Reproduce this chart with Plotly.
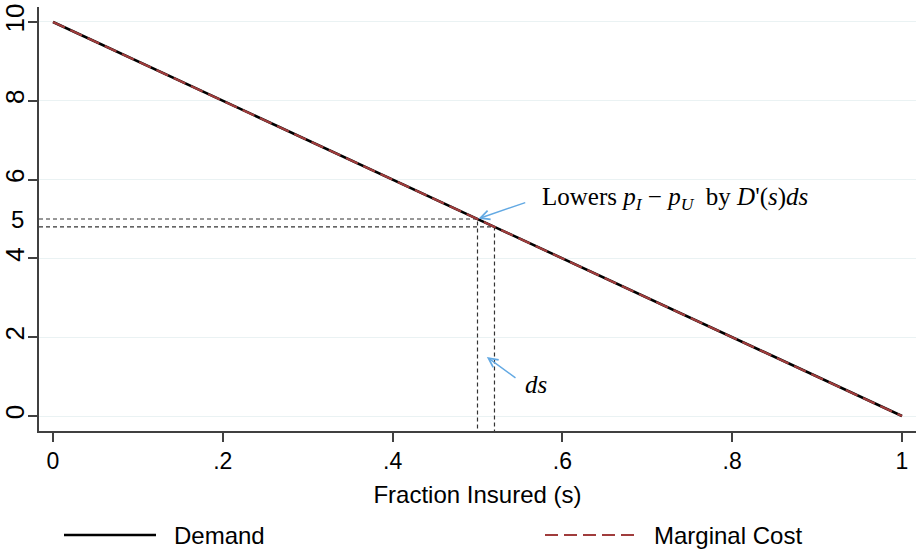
import plotly.graph_objects as go

# ---- data ----
share = [0, 1]                 # fraction insured (s)
demand = [10, 0]               # demand curve
marginal_cost = [10, 0]        # marginal cost curve
s_points = [0.5, 0.52]         # s and s + ds
price_points = [5, 4.8]        # D(s) and D(s+ds)
x_tickvals = [0, 0.2, 0.4, 0.6, 0.8, 1]
x_ticktext = ["0", ".2", ".4", ".6", ".8", "1"]
y_tickvals = [0, 2, 4, 6, 8, 10]
y_ticktext = ["0", "2", "4", "6", "8", "10"]

X_RANGE = [-0.0165, 1.0165]
Y_RANGE = [-0.38, 10.38]

SANS = "Liberation Sans, Arial, sans-serif"
SERIF = "Liberation Serif, Times New Roman, serif"
AXIS_COL = "#404040"
ARROW_COL = "#63a9e3"

fig = go.Figure()

# dashed guide lines (horizontal to curve, then down to the axis)
for sp, pp in zip(s_points, price_points):
    fig.add_trace(go.Scatter(
        x=[X_RANGE[0], sp, sp], y=[pp, pp, Y_RANGE[0]],
        mode="lines", line=dict(color="#333333", width=1.2, dash="4px,3px"),
        showlegend=False, hoverinfo="skip"))

fig.add_trace(go.Scatter(x=share, y=demand, mode="lines", name="Demand",
                         line=dict(color="black", width=2.6)))
fig.add_trace(go.Scatter(x=share, y=marginal_cost, mode="lines", name="Marginal Cost",
                         line=dict(color="#a03c3c", width=2.2, dash="13px,6px")))

fig.update_layout(
    width=916, height=549,
    margin=dict(l=39, r=0, t=7, b=118, autoexpand=False),
    paper_bgcolor="white", plot_bgcolor="white",
    showlegend=False,
    font=dict(family=SANS, color="black"),
)

fig.update_xaxes(
    range=X_RANGE, tickvals=x_tickvals, ticktext=x_ticktext,
    ticks="outside", ticklen=9, tickwidth=1.5, tickcolor=AXIS_COL,
    showline=True, linecolor=AXIS_COL, linewidth=1.5,
    showgrid=False, zeroline=False, automargin=False,
    tickfont=dict(size=23, family=SANS),
    title=dict(text="Fraction Insured (s)", font=dict(size=24, family=SANS), standoff=13),
)
fig.update_yaxes(
    range=Y_RANGE, tickvals=y_tickvals, ticktext=y_ticktext,
    ticks="outside", ticklen=9, tickwidth=1.5, tickcolor=AXIS_COL,
    showline=True, linecolor=AXIS_COL, linewidth=1.5,
    showgrid=True, gridcolor="#eaf2f3", gridwidth=1.2, zeroline=False,
    automargin=False, ticklabelstandoff=-6,
    tickangle=-90, tickfont=dict(size=26, family=SANS),
)

# extra upright "5" label at the left
fig.add_annotation(x=0, xref="paper", y=price_points[0], yref="y",
                   text="5", showarrow=False, xanchor="right", xshift=-13,
                   font=dict(size=24, family=SANS, color="black"))

# text annotations
fig.add_annotation(x=0.5736, y=5.53, xref="x", yref="y", xanchor="left",
                   text="Lowers <i>p</i><sub><i>I</i></sub> − <i>p</i><sub><i>U</i></sub>&nbsp; by <i>D</i>'(<i>s</i>)<i>ds</i>",
                   showarrow=False, font=dict(size=25, family=SERIF, color="black"))
fig.add_annotation(x=0.553, y=0.8, xref="x", yref="y", xanchor="left",
                   text="<i>ds</i>", showarrow=False,
                   font=dict(size=25, family=SERIF, color="black"))

# arrows
fig.add_annotation(x=s_points[0], y=price_points[0], ax=0.558, ay=5.43,
                   xref="x", yref="y", axref="x", ayref="y", text="",
                   showarrow=True, arrowhead=5, arrowsize=1.3, arrowwidth=1.4,
                   arrowcolor=ARROW_COL, standoff=1)
fig.add_annotation(x=0.511, y=1.5, ax=0.5465, ay=0.94,
                   xref="x", yref="y", axref="x", ayref="y", text="",
                   showarrow=True, arrowhead=5, arrowsize=1.3, arrowwidth=1.4,
                   arrowcolor=ARROW_COL)

# custom legend (long sample lines)
def px_to_paper_x(px):
    return (px - 39) / 877

def py_to_paper_y(py):
    return (431 - py) / 424

leg_y = py_to_paper_y(535)
fig.add_shape(type="line", xref="paper", yref="paper",
              x0=px_to_paper_x(64), x1=px_to_paper_x(156), y0=leg_y, y1=leg_y,
              line=dict(color="black", width=2.6))
fig.add_shape(type="line", xref="paper", yref="paper",
              x0=px_to_paper_x(545), x1=px_to_paper_x(637), y0=leg_y, y1=leg_y,
              line=dict(color="#a03c3c", width=2.2, dash="13px,6px"))
fig.add_annotation(xref="paper", yref="paper", x=px_to_paper_x(172), y=leg_y,
                   xanchor="left", yanchor="middle", text="Demand", showarrow=False,
                   font=dict(size=24, family=SANS, color="black"))
fig.add_annotation(xref="paper", yref="paper", x=px_to_paper_x(652), y=leg_y,
                   xanchor="left", yanchor="middle", text="Marginal Cost", showarrow=False,
                   font=dict(size=24, family=SANS, color="black"))

fig.write_html("out.html", config={"displayModeBar": False},
               post_script="document.body.style.margin='0';document.body.style.overflow='hidden';")
